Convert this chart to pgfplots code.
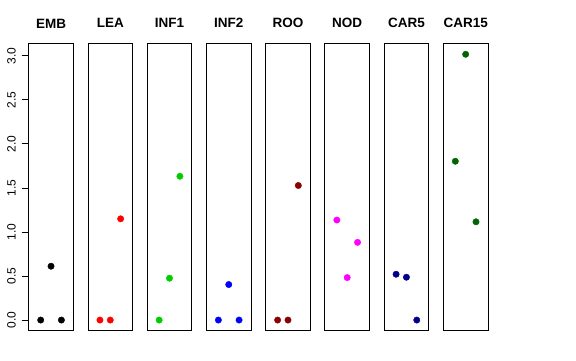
\documentclass[border=0pt]{standalone}
\usepackage{pgfplots}
\pgfplotsset{compat=1.18}
\usepackage{fontspec}
\setmainfont{Liberation Sans}
\definecolor{rgreen}{RGB}{0,205,0}
\definecolor{rdarkred}{RGB}{139,0,0}
\definecolor{rdarkblue}{RGB}{0,0,139}
\definecolor{rdarkgreen}{RGB}{0,100,0}
\definecolor{rmagenta}{RGB}{255,0,255}
\pgfplotsset{panel/.style={
  scale only axis, width=44.7pt, height=287.4pt, anchor=south west,
  xmin=-0.16, xmax=4.16, ymin=-0.1208, ymax=3.1408,
  xtick=\empty, ytick=\empty,
  axis line style={line width=0.75pt, black},
  title style={at={(0.5,1)}, anchor=base, yshift=9.3pt, font=\bfseries\fontsize{13.5}{16}\selectfont},
  clip=false}}
\newcommand\panel[6]{%
\begin{axis}[panel, at={(28.7pt+#1*59.23pt,29.3pt)}, title={#2}]
\addplot[only marks, mark=*, mark size=3.2pt, color=#3] coordinates {(1,#4) (2,#5) (3,#6)};
\end{axis}}
\begin{document}
\begin{tikzpicture}
\path (0,0) rectangle (576pt,360pt);
\begin{axis}[panel, at={(28.7pt,29.3pt)}, title={EMB},
  ytick={0,0.5,1,1.5,2,2.5,3}, ytick pos=left, tick align=outside,
  major tick length=7pt, tick style={line width=0.75pt, black},
  yticklabel style={rotate=90, anchor=base, yshift=6pt, font=\fontsize{12}{14}\selectfont},
  /pgf/number format/assume math mode=true,
  /pgf/number format/fixed, /pgf/number format/fixed zerofill, /pgf/number format/precision=1]
\addplot[only marks, mark=*, mark size=3.2pt, color=black] coordinates {(1,0) (2,0.611) (3,0)};
\end{axis}
\panel{1}{LEA}{red}{0}{0}{1.149}
\panel{2}{INF1}{rgreen}{0}{0.475}{1.632}
\panel{3}{INF2}{blue}{0}{0.403}{0}
\panel{4}{ROO}{rdarkred}{0}{0}{1.527}
\panel{5}{NOD}{rmagenta}{1.135}{0.482}{0.882}
\panel{6}{CAR5}{rdarkblue}{0.520}{0.486}{0}
\panel{7}{CAR15}{rdarkgreen}{1.802}{3.016}{1.115}
\end{tikzpicture}
\end{document}
